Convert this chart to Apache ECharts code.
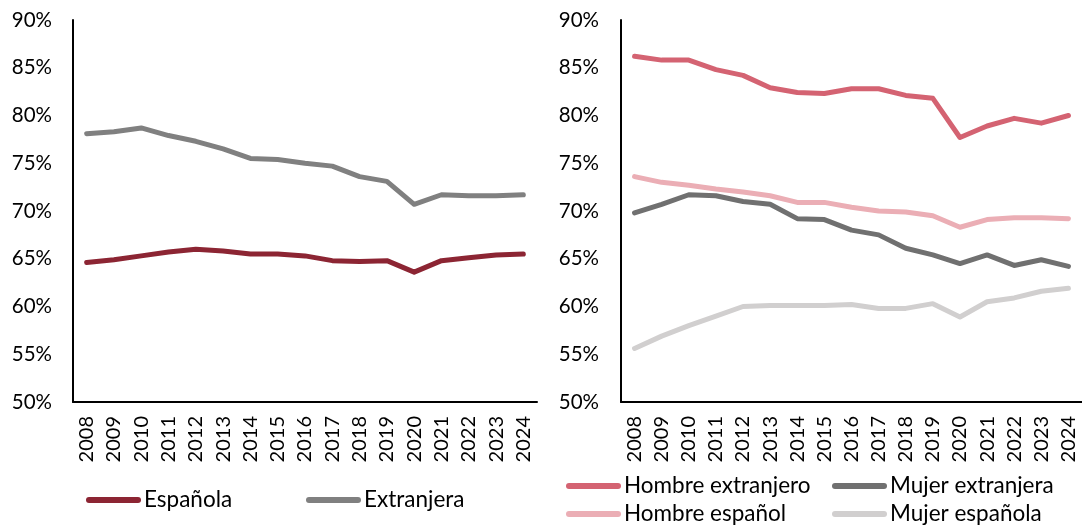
<!DOCTYPE html>
<html>
<head>
<meta charset="utf-8">
<script src="https://cdn.jsdelivr.net/npm/echarts@6/dist/echarts.min.js"></script>
<style>
html,body{margin:0;padding:0;background:#fff;}
#chart{width:1082px;height:526px;}
</style>
</head>
<body>
<div id="chart"></div>
<script>
var years = ['2008','2009','2010','2011','2012','2013','2014','2015','2016','2017','2018','2019','2020','2021','2022','2023','2024'];
var yTicks = [50, 55, 60, 65, 70, 75, 80, 85, 90];

var espanola   = [64.6, 64.9, 65.3, 65.7, 66.0, 65.8, 65.5, 65.5, 65.3, 64.8, 64.7, 64.8, 63.6, 64.8, 65.1, 65.4, 65.5];
var extranjera = [78.1, 78.3, 78.7, 77.9, 77.3, 76.5, 75.5, 75.4, 75.0, 74.7, 73.6, 73.1, 70.7, 71.7, 71.6, 71.6, 71.7];

var hombreExtranjero = [86.2, 85.8, 85.8, 84.8, 84.2, 82.9, 82.4, 82.3, 82.8, 82.8, 82.1, 81.8, 77.7, 78.9, 79.7, 79.2, 80.0];
var mujerExtranjera  = [69.8, 70.7, 71.7, 71.6, 71.0, 70.7, 69.2, 69.1, 68.0, 67.5, 66.1, 65.4, 64.5, 65.4, 64.3, 64.9, 64.2];
var hombreEspanol    = [73.6, 73.0, 72.7, 72.3, 72.0, 71.6, 70.9, 70.9, 70.4, 70.0, 69.9, 69.5, 68.3, 69.1, 69.3, 69.3, 69.2];
var mujerEspanola    = [55.6, 56.9, 58.0, 59.0, 60.0, 60.1, 60.1, 60.1, 60.2, 59.8, 59.8, 60.3, 58.9, 60.5, 60.9, 61.6, 61.9];

var FONT = 'Lato';
var chart = echarts.init(document.getElementById('chart'), null, {renderer: 'canvas'});

function xAxisDef(gridIndex) {
  return {
    type: 'category', gridIndex: gridIndex, data: years, boundaryGap: true,
    axisLine: {show: true, lineStyle: {color: '#000', width: 2}},
    axisTick: {show: false},
    axisLabel: {interval: 0, rotate: 90, margin: 14, color: '#000', fontFamily: FONT, fontSize: 20}
  };
}
function yAxisDef(gridIndex, margin) {
  return {
    type: 'value', gridIndex: gridIndex, min: yTicks[0], max: yTicks[yTicks.length - 1], interval: 5,
    axisLine: {show: true, lineStyle: {color: '#000', width: 2}},
    axisTick: {show: false},
    splitLine: {show: false},
    axisLabel: {margin: margin, color: '#000', fontFamily: FONT, fontSize: 20.5, formatter: function (v) { return v + '%'; }}
  };
}
function lineSeries(name, data, color, idx) {
  return {
    name: name, type: 'line', data: data, xAxisIndex: idx, yAxisIndex: idx,
    showSymbol: false, symbol: 'none', smooth: false,
    lineStyle: {color: color, width: 5, cap: 'round', join: 'round'},
    itemStyle: {color: color},
    emphasis: {disabled: true},
    animation: false
  };
}
var ICON = 'path://M3,0 L52,0 A3,3 0 0 1 52,6 L3,6 A3,3 0 0 1 3,0 Z';
function legendDef(name, left, cy) {
  return {
    data: [name], left: left, top: cy - 12, padding: 0,
    icon: ICON, itemWidth: 55, itemHeight: 6, itemGap: 0,
    itemStyle: {borderWidth: 0},
    textStyle: {color: '#000', fontFamily: FONT, fontSize: 22.5, lineHeight: 24, padding: [0, 0, 0, -2]},
    selectedMode: false
  };
}

var option = {
  backgroundColor: '#fff',
  animation: false,
  grid: [
    {left: 73, top: 20, width: 464, height: 382, containLabel: false},
    {left: 621, top: 20, width: 463, height: 382, containLabel: false}
  ],
  xAxis: [xAxisDef(0), xAxisDef(1)],
  yAxis: [yAxisDef(0, 21), yAxisDef(1, 22)],
  legend: [
    legendDef('Española', 86, 500),
    legendDef('Extranjera', 306, 500),
    legendDef('Hombre extranjero', 566, 486),
    legendDef('Mujer extranjera', 832, 486),
    legendDef('Hombre español', 566, 514),
    legendDef('Mujer española', 832, 514)
  ],
  series: [
    lineSeries('Española', espanola, '#8C2533', 0),
    lineSeries('Extranjera', extranjera, '#808080', 0),
    lineSeries('Hombre extranjero', hombreExtranjero, '#D46372', 1),
    lineSeries('Mujer extranjera', mujerExtranjera, '#707070', 1),
    lineSeries('Hombre español', hombreEspanol, '#EBAEB5', 1),
    lineSeries('Mujer española', mujerEspanola, '#D1CFCF', 1)
  ]
};
chart.setOption(option);
</script>
</body>
</html>
